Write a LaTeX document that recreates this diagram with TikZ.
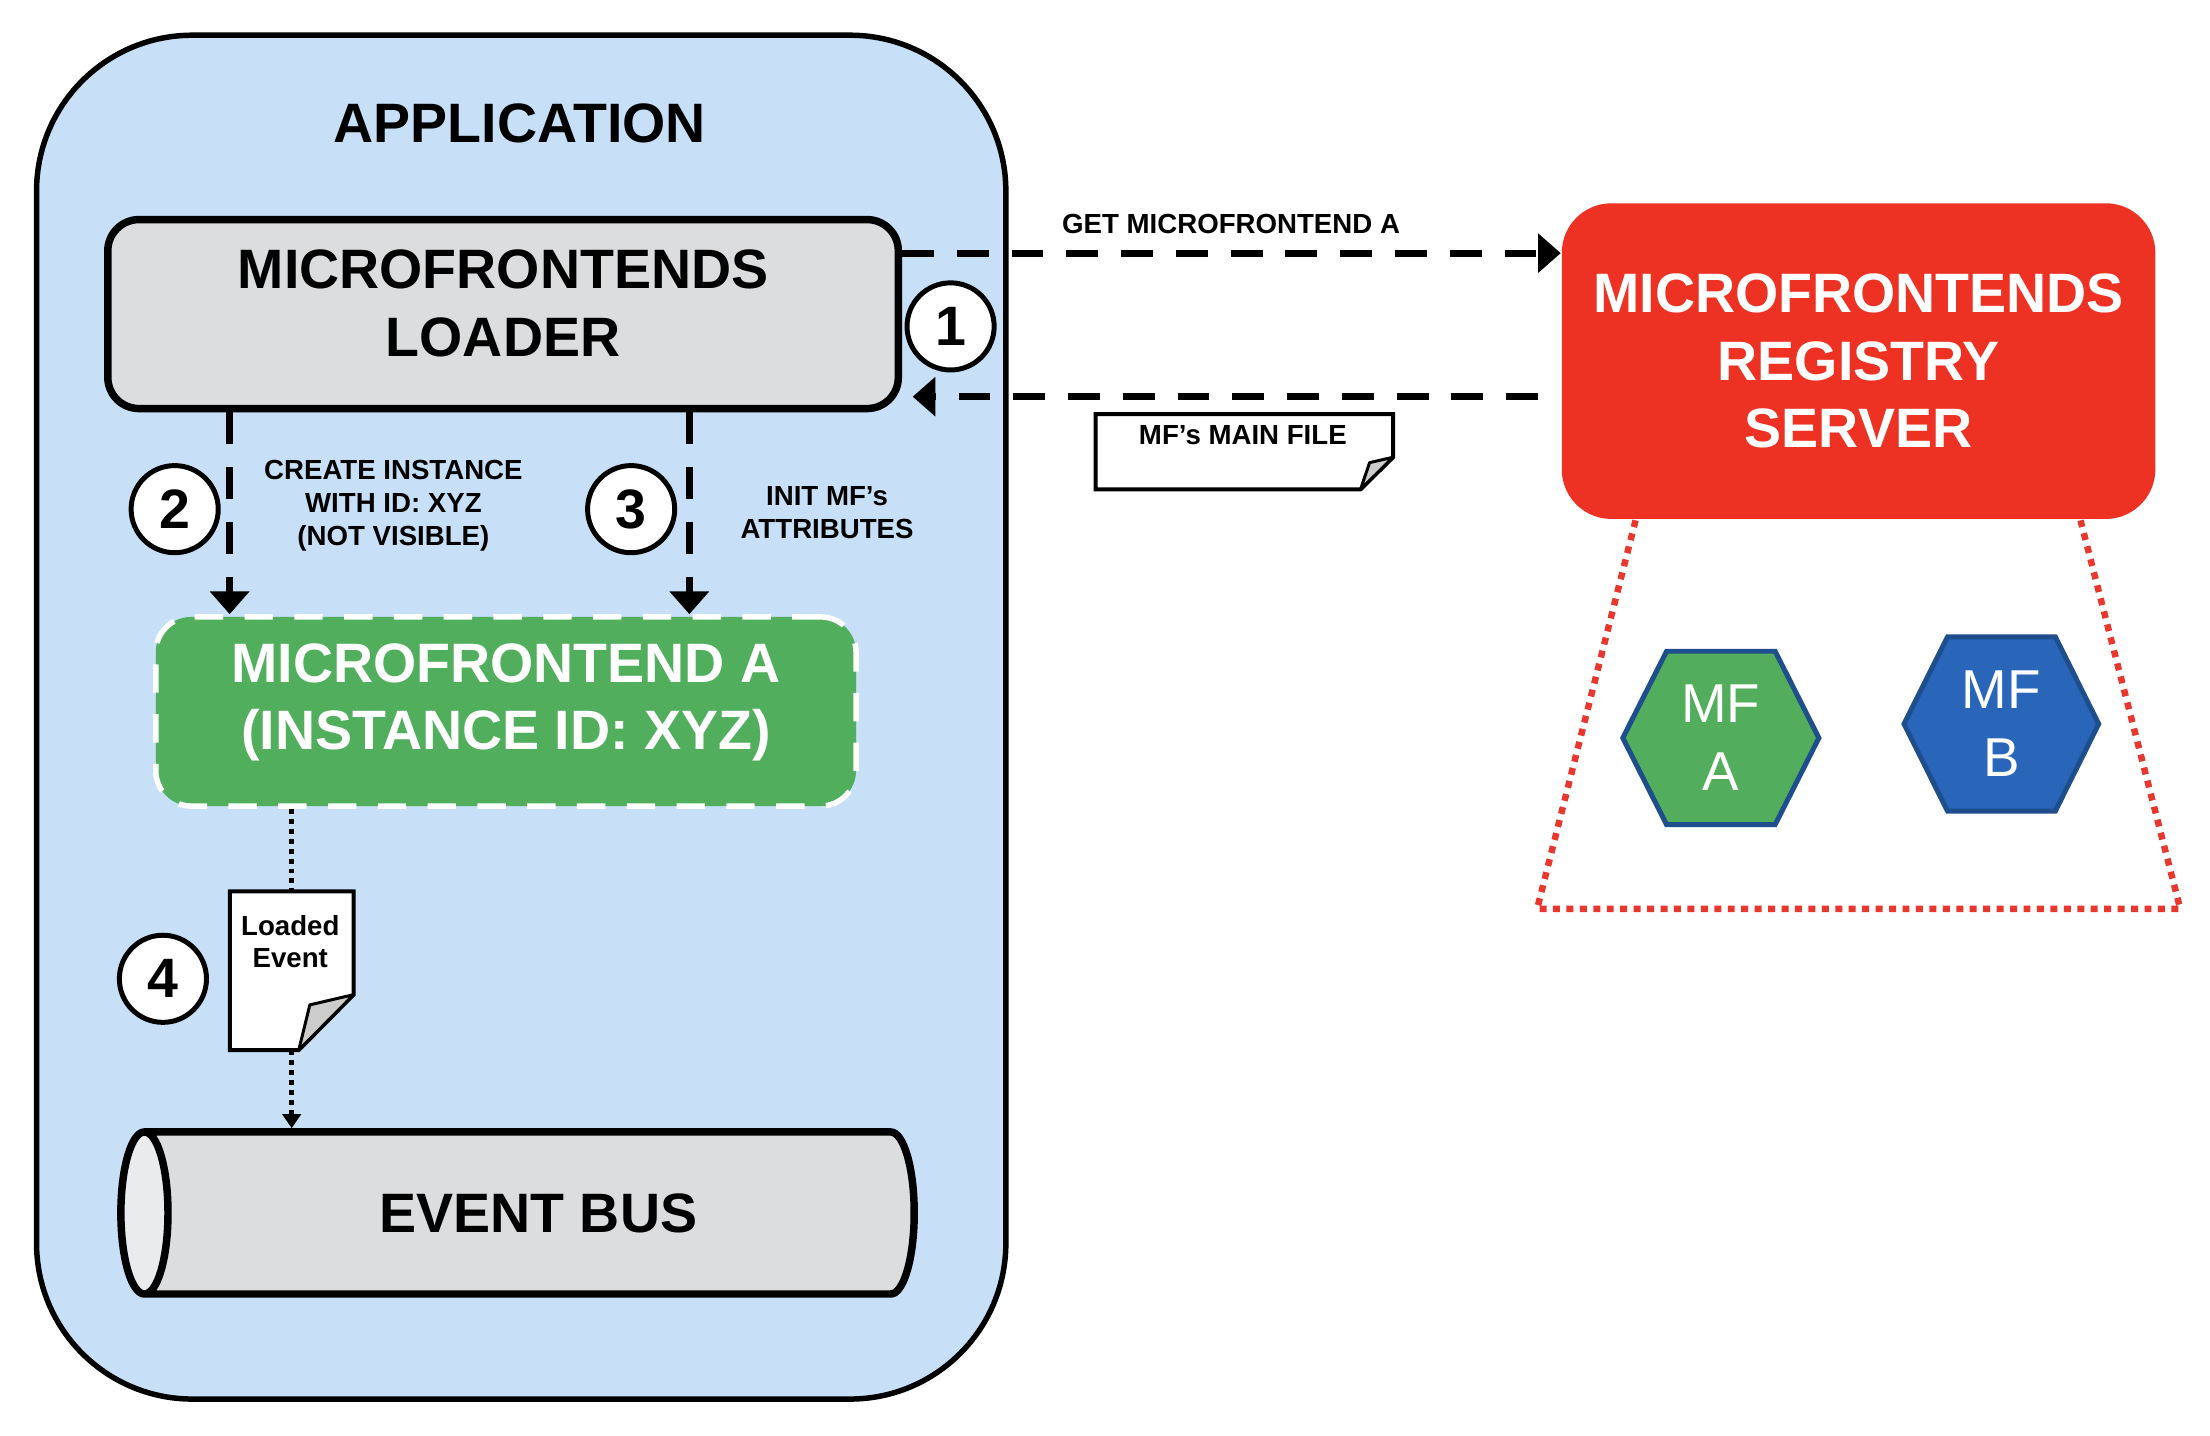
\documentclass[tikz,border=0pt]{standalone}
\usepackage{fontspec}
\setmainfont{Liberation Sans}
\usetikzlibrary{arrows.meta,shapes.geometric,positioning,calc}

\definecolor{appblue}{RGB}{199,224,247}
\definecolor{loadergray}{RGB}{220,221,223}
\definecolor{busface}{RGB}{234,235,237}
\definecolor{mfgreen}{RGB}{81,174,92}
\definecolor{regred}{RGB}{237,50,36}
\definecolor{reddot}{RGB}{232,55,44}
\definecolor{hexgreen}{RGB}{82,173,92}
\definecolor{hexblue}{RGB}{41,101,185}
\definecolor{hexedge}{RGB}{31,78,140}
\definecolor{flapgray}{RGB}{204,204,204}

\begin{document}
\begin{tikzpicture}
                \tikzstyle{bigtxt}=[font=\fontsize{11.15pt}{13.6pt}\selectfont\bfseries, align=center]
                \tikzstyle{smalltxt}=[font=\fontsize{5.55pt}{6.6pt}\selectfont\bfseries, align=center, inner sep=0pt]
                \tikzstyle{dasharrow}=[line width=1.4pt, dash pattern=on 6.4pt off 4.6pt, -{Triangle[length=0.16cm,width=0.27cm]}]
                \tikzstyle{dotline}=[line width=1pt, dash pattern=on 1pt off 1pt]
                \tikzstyle{numcircle}=[circle, draw, fill=white, line width=1pt, minimum size=0.615cm, inner sep=0pt, font=\fontsize{11.15pt}{13.6pt}\selectfont\bfseries]
                \tikzstyle{paper}=[draw=black, line width=0.8pt, fill=white]
                \tikzstyle{flap}=[draw=black, line width=0.6pt, fill=flapgray, line join=round]
                \tikzstyle{hexshape}=[draw=hexedge, line width=1pt]
                \tikzstyle{hextxt}=[text=white, align=center, font=\fontsize{11pt}{13.6pt}\selectfont]

                \useasboundingbox (0,0) rectangle (15.6,-10.136);

                % application side
                \node[draw, line width=1.1pt, fill=appblue, rounded corners=1.1cm, minimum width=6.842cm, minimum height=9.627cm] (app) at (3.679,-5.062) {};
                \node[bigtxt] (apptitle) at (3.668,-0.868) {APPLICATION};

                \node[bigtxt, text depth=0.15cm, draw, line width=1.5pt, fill=loadergray, rounded corners=0.22cm, minimum width=5.58cm, minimum height=1.334cm] (loader) at (3.551,-2.217) {MICROFRONTENDS\\LOADER};
                \node[bigtxt, text depth=0.21cm, text=white, draw=white, line width=1.1pt, dash pattern=on 5.7pt off 4.3pt, fill=mfgreen, rounded corners=0.25cm, minimum width=4.943cm, minimum height=1.335cm] (mfinst) at (3.571,-5.022) {MICROFRONTEND A\\(INSTANCE ID: XYZ)};

                \node[cylinder, shape border rotate=180, shape aspect=0.65, draw, line width=1.5pt, cylinder uses custom fill, cylinder body fill=loadergray, cylinder end fill=busface, minimum width=1.144cm, minimum height=5.6cm, bigtxt] (bus) at (3.80,-8.562) {EVENT BUS};

                % registry side
                \draw[line width=1.3pt, reddot, dash pattern=on 1.4pt off 1.3pt] (11.545,-3.673) -- (10.85,-6.416) -- (15.39,-6.416) -- (14.686,-3.673);
                \node[bigtxt, text=white, fill=regred, rounded corners=0.35cm, minimum width=4.19cm, minimum height=2.228cm] (registry) at (13.119,-2.549) {MICROFRONTENDS\\REGISTRY\\SERVER};

                \draw[hexshape, fill=hexgreen] (11.455,-5.209) -- (11.764,-4.597) -- (12.530,-4.597) -- (12.839,-5.209) -- (12.530,-5.821) -- (11.764,-5.821) -- cycle;
                \node[hextxt] (mfa) at (12.147,-5.209) {MF\\A};
                \draw[hexshape, fill=hexblue] (13.440,-5.110) -- (13.747,-4.495) -- (14.508,-4.495) -- (14.814,-5.110) -- (14.508,-5.725) -- (13.747,-5.725) -- cycle;
                \node[hextxt] (mfb) at (14.127,-5.110) {MF\\B};

                % paper notes
                \node[minimum width=2.085cm, minimum height=0.517cm, inner sep=0pt] (mainfile) at (8.784,-3.189) {};
                \draw[paper] (mainfile.north west) -- (mainfile.north east) -- ($(mainfile.south east)+(0,0.227)$) -- ($(mainfile.south east)+(-0.23,0)$) -- (mainfile.south west) -- cycle;
                \draw[flap] ($(mainfile.south east)+(0,0.227)$) -- ($(mainfile.south east)+(-0.166,0.189)$) -- ($(mainfile.south east)+(-0.23,0)$) -- cycle;
                \node[smalltxt] (mainfiletxt) at ($(mainfile.north)+(-0.011,-0.151)$) {MF’s MAIN FILE};

                \node[minimum width=0.86cm, minimum height=1.106cm, inner sep=0pt] (loaded) at (2.059,-6.852) {};
                \draw[paper] (loaded.north west) -- (loaded.north east) -- ($(loaded.south east)+(0,0.391)$) -- ($(loaded.south east)+(-0.387,0)$) -- (loaded.south west) -- cycle;
                \draw[flap] ($(loaded.south east)+(0,0.391)$) -- ($(loaded.south east)+(-0.309,0.319)$) -- ($(loaded.south east)+(-0.387,0)$) -- cycle;
                \node[smalltxt] (loadedtxt) at ($(loaded.north)+(-0.01,-0.355)$) {Loaded\\Event};

                % connectors
                \coordinate (getstart) at ([yshift=0.43cm]loader.east);
                \coordinate (retend) at ([yshift=-0.583cm,xshift=0.075cm]loader.east);
                \draw[dasharrow] (getstart) -- (getstart -| registry.west);
                \draw[dasharrow, shorten <=0.16cm] (retend -| registry.west) -- (retend);
                \draw[dasharrow] ([xshift=-1.93cm]loader.south) -- ([xshift=-1.93cm]loader.south |- mfinst.north);
                \draw[dasharrow] ([xshift=1.315cm]loader.south) -- ([xshift=1.315cm]loader.south |- mfinst.north);
                \draw[dotline] (loaded.north |- mfinst.south) -- (loaded.north);
                \draw[dotline, -{Triangle[length=0.1cm,width=0.13cm]}] (loaded.south) -- (loaded.south |- bus.north);

                % step numbers and labels
                \node[numcircle] (one) at (6.71,-2.304) {1};
                \node[numcircle] (two) at (1.233,-3.594) {2};
                \node[numcircle] (three) at (4.455,-3.594) {3};
                \node[numcircle] (four) at (1.15,-6.909) {4};

                \node[smalltxt] (getlbl) at (8.69,-1.58) {GET MICROFRONTEND A};
                \node[smalltxt] (createlbl) at (2.777,-3.571) {CREATE INSTANCE\\WITH ID: XYZ\\(NOT VISIBLE)};
                \node[smalltxt] (initlbl) at (5.838,-3.62) {INIT MF’s\\ATTRIBUTES};
\end{tikzpicture}
\end{document}
